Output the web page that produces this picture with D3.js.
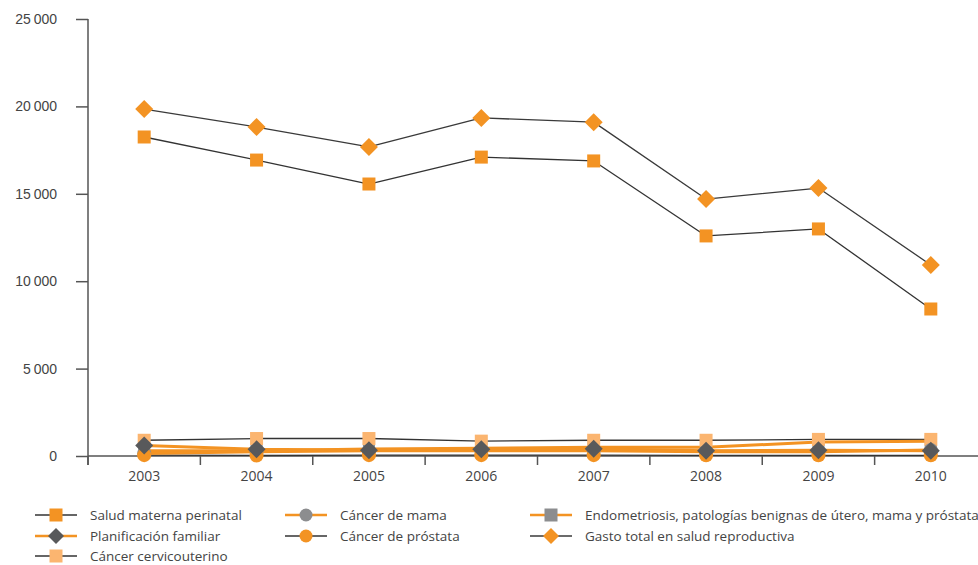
<!DOCTYPE html>
<html>
<head>
<meta charset="utf-8">
<script src="https://cdn.jsdelivr.net/npm/d3@7"></script>
<style>
  body { margin: 0; background: #fff; }
  svg { display: block; font-family: 'Open Sans', sans-serif; }
</style>
</head>
<body>
<div id="chart"></div>
<script>
// datos (millones)
const years = ['2003', '2004', '2005', '2006', '2007', '2008', '2009', '2010']
const yTicks = [0, 5000, 10000, 15000, 20000, 25000]

const saludMaterna = [18250, 16930, 15560, 17100, 16880, 12590, 12990, 8410]
const planificacion = [600, 380, 330, 380, 420, 300, 330, 300]
const cervicouterino = [900, 1000, 1000, 850, 900, 900, 950, 950]
const cancerMama = [150, 250, 300, 300, 300, 250, 250, 350]
const cancerProstata = [50, 30, 50, 50, 50, 40, 40, 40]
const endometriosis = [300, 300, 400, 450, 500, 500, 800, 850]
const gastoTotal = [19850, 18820, 17680, 19340, 19100, 14700, 15330, 10930]

const black = '#333333'
const orange = '#F39323'
const lightOrange = '#FBB570'
const darkGrey = '#58595B'
const grey = '#8C8D8F'

const series = [
  { name: 'Salud materna perinatal', values: saludMaterna, line: black, lw: 1.3, marker: 'square', fill: orange, size: 13, leg: [0, 0] },
  { name: 'Planificación familiar', values: planificacion, line: orange, lw: 3, marker: 'diamond', fill: darkGrey, size: 18, leg: [0, 1] },
  { name: 'Cáncer cervicouterino', values: cervicouterino, line: black, lw: 1.3, marker: 'square', fill: lightOrange, size: 13, leg: [0, 2] },
  { name: 'Cáncer de mama', values: cancerMama, line: orange, lw: 3, marker: 'circle', fill: grey, size: 14, leg: [1, 0] },
  { name: 'Cáncer de próstata', values: cancerProstata, line: black, lw: 1.3, marker: 'circle', fill: orange, size: 14, leg: [1, 1] },
  { name: 'Endometriosis, patologías benignas de útero, mama y próstata', values: endometriosis, line: orange, lw: 3, marker: 'square', fill: grey, size: 12, leg: [2, 0] },
  { name: 'Gasto total en salud reproductiva', values: gastoTotal, line: '#3a3a3a', lw: 1.3, marker: 'diamond', fill: orange, size: 18, leg: [2, 1] }
]
// orden de dibujo de los marcadores
const drawOrder = [5, 2, 3, 4, 1, 0, 6]

const width = 978
const height = 565
const svg = d3.select('#chart').append('svg')
  .attr('width', width)
  .attr('height', height)

const x = d3.scaleBand().domain(years).range([88, 987])
const y = d3.scaleLinear().domain([0, 25000]).range([456, 19])
const fmt = d => d === 0 ? '0' : d3.format(',')(d).replace(',', '\u2009')

// eje y
const gy = svg.append('g')
  .attr('transform', 'translate(88,0)')
  .call(d3.axisLeft(y).tickValues(yTicks).tickSize(12).tickPadding(19).tickFormat(fmt))
gy.select('.domain').attr('stroke', '#555').attr('stroke-width', 1.5).attr('d', 'M0,19V465')
gy.selectAll('.tick line').attr('stroke', '#555').attr('stroke-width', 1.5)
gy.selectAll('.tick text').attr('fill', '#444').attr('font-size', 14)

// eje x
const gx = svg.append('g')
svg.append('line')
  .attr('x1', 88).attr('x2', width).attr('y1', y(0)).attr('y2', y(0))
  .attr('stroke', '#555').attr('stroke-width', 1.5)
gx.selectAll('.xtick')
  .data(years)
  .enter()
  .append('line')
  .attr('x1', d => x(d)).attr('x2', d => x(d))
  .attr('y1', y(0)).attr('y2', y(0) + 9)
  .attr('stroke', '#555').attr('stroke-width', 1.5)
gx.selectAll('.xlabel')
  .data(years)
  .enter()
  .append('text')
  .attr('x', d => x(d) + x.bandwidth() / 2)
  .attr('y', 481)
  .attr('text-anchor', 'middle')
  .attr('font-size', 14)
  .attr('fill', '#444')
  .text(d => d)

const cx = (d, i) => x(years[i]) + x.bandwidth() / 2

const line = d3.line()
  .x((d, i) => cx(d, i))
  .y(d => y(d))

// lineas (las negras al fondo)
const lineOrder = [0, 2, 4, 6, 5, 3, 1]
lineOrder.forEach(k => {
  const s = series[k]
  svg.append('path')
    .datum(s.values)
    .attr('d', line)
    .attr('fill', 'none')
    .attr('stroke', s.line)
    .attr('stroke-width', s.lw)
    .attr('stroke-linejoin', 'round')
})

function drawMarker (g, type, px, py, size, fill) {
  if (type === 'square') {
    g.append('rect')
      .attr('x', px - size / 2).attr('y', py - size / 2)
      .attr('width', size).attr('height', size)
      .attr('fill', fill)
  } else if (type === 'circle') {
    g.append('circle')
      .attr('cx', px).attr('cy', py).attr('r', size / 2)
      .attr('fill', fill)
  } else {
    const h = size / 2
    g.append('path')
      .attr('d', `M${px},${py - h}L${px + h},${py}L${px},${py + h}L${px - h},${py}Z`)
      .attr('fill', fill)
  }
}

// marcadores
drawOrder.forEach(k => {
  const s = series[k]
  const g = svg.append('g')
  s.values.forEach((v, i) => drawMarker(g, s.marker, cx(v, i), y(v), s.size, s.fill))
})

// leyenda
const legX = [35, 285, 530]
const legY = [515, 536, 556]
series.forEach(s => {
  const lx = legX[s.leg[0]]
  const ly = legY[s.leg[1]]
  const g = svg.append('g')
  g.append('line')
    .attr('x1', lx).attr('x2', lx + 42)
    .attr('y1', ly).attr('y2', ly)
    .attr('stroke', s.line)
    .attr('stroke-width', s.lw === 3 ? 2.5 : 1.3)
  drawMarker(g, s.marker, lx + 21, ly, s.marker === 'diamond' ? 16 : 13, s.fill)
  g.append('text')
    .attr('x', lx + 55)
    .attr('y', ly + 5)
    .attr('font-size', 13.5)
    .attr('fill', '#444')
    .text(s.name)
})
</script>
</body>
</html>
